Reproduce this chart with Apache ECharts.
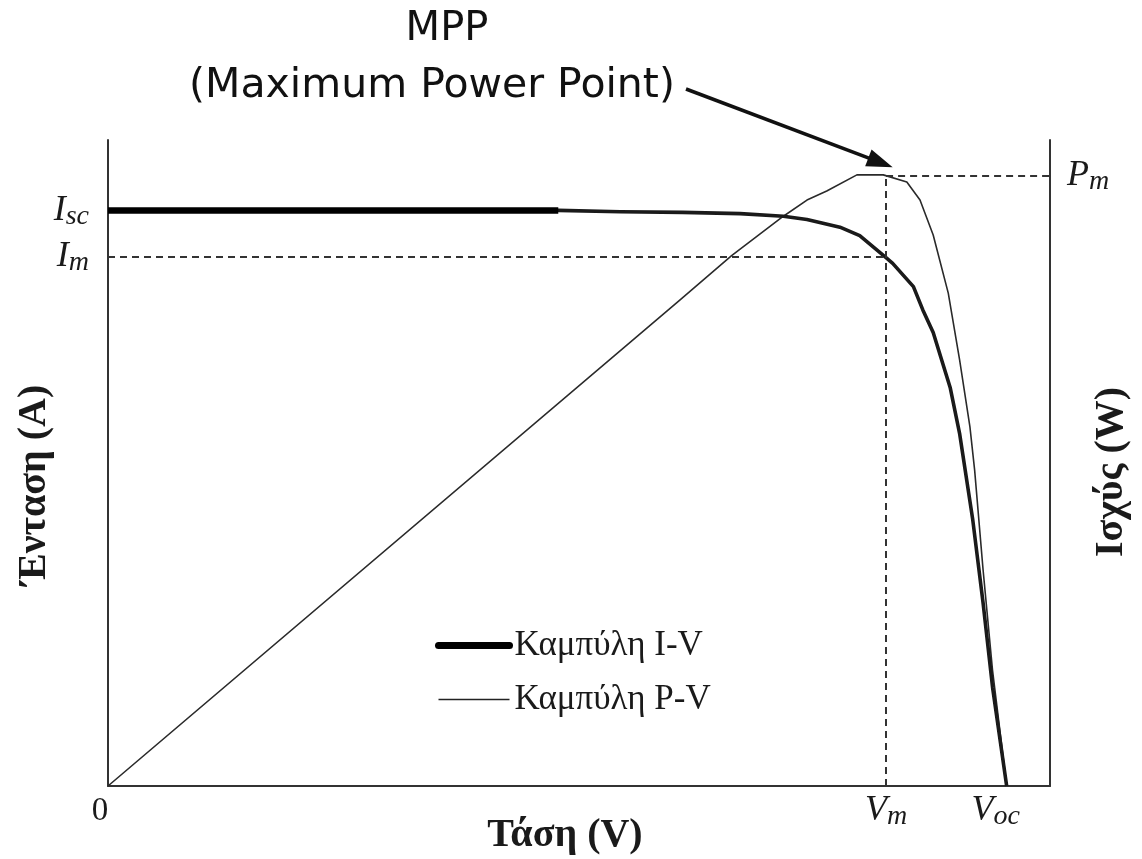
<!DOCTYPE html>
<html>
<head>
<meta charset="utf-8">
<script src="https://cdn.jsdelivr.net/npm/echarts@6/dist/echarts.min.js"></script>
<style>
  html, body { margin: 0; padding: 0; background: #fff; }
  #chart { width: 1142px; height: 859px; }
</style>
</head>
<body>
<div id="chart"></div>
<script>
// Τάση (% της κλίμακας) και Ένταση / Ισχύς (% της κλίμακας), διαβασμένα από την εικόνα
const ivV = [0, 47.8, 54.4, 61.0, 67.1, 71.7, 74.2, 77.7, 79.8, 82.5, 83.3, 85.5, 86.5, 87.6, 89.4, 90.4, 91.8, 92.9, 93.9, 95.4]
const ivI = [89.1, 89.1, 88.9, 88.8, 88.6, 88.2, 87.7, 86.5, 85.2, 81.9, 80.9, 77.3, 73.7, 70.2, 61.7, 54.6, 41.2, 28.3, 15.3, 0]
const pvV = [0, 60.7, 66.2, 71.7, 74.2, 76.3, 79.5, 82.3, 84.8, 86.2, 87.6, 89.2, 90.4, 91.5, 92.0, 92.9, 93.9, 95.4]
const pvP = [0, 75.2, 82.1, 88.2, 90.7, 92.1, 94.6, 94.6, 93.5, 90.7, 85.3, 76.3, 66.0, 55.6, 48.9, 33.4, 17.9, 0]

// χαρακτηριστικά σημεία
const Isc = 89.1
const Im = 82.0
const Pm = 94.5
const Vm = 82.6
const Voc = 95.4
const thickEnd = 47.8 // ως εκεί η I-V είναι πιο παχιά

const serif = 'Liberation Serif'
const ink = '#1a1a1a'

const zip = (xs, ys) => xs.map((x, i) => [x, ys[i]])
const ivData = zip(ivV, ivI)
const pvData = zip(pvV, pvP)

const subRich = {
  b: { fontFamily: serif, fontStyle: 'italic', fontSize: 36, color: ink, lineHeight: 40 },
  s: { fontFamily: serif, fontStyle: 'italic', fontSize: 28, color: ink, lineHeight: 26, verticalAlign: 'bottom' },
  z: { fontFamily: serif, fontSize: 33, color: ink, lineHeight: 40, padding: [0, 16, 0, 0] },
  oc: { fontFamily: serif, fontStyle: 'italic', fontSize: 28, color: ink, lineHeight: 26, verticalAlign: 'bottom', padding: [0, 22, 0, 0] },
}
const near = (a, b) => Math.abs(a - b) < 0.05
const nameStyle = { fontFamily: serif, fontWeight: 'bold', fontSize: 40, color: ink }

const chart = echarts.init(document.getElementById('chart'))
const dash = { color: '#333', width: 2, type: [7, 5] }
const noSymbol = { color: 'rgba(0,0,0,0)', borderWidth: 0 }

let option = {
  animation: false,
  grid: { left: 108, right: 92, top: 140, bottom: 73, containLabel: false, outerBoundsMode: 'none' },
  legend: {
    orient: 'vertical',
    left: 430,
    top: 623,
    itemWidth: 71,
    itemHeight: 31,
    itemGap: 19,
    selectedMode: false,
    data: [
      { name: 'Καμπύλη I-V', lineStyle: { width: 7, cap: 'round', color: '#000' }, itemStyle: noSymbol },
      { name: 'Καμπύλη P-V', lineStyle: { width: 1.6, color: '#222' }, itemStyle: noSymbol },
    ],
    textStyle: { fontFamily: serif, fontSize: 35, color: ink, lineHeight: 31 },
  },
  xAxis: {
    type: 'value',
    min: 0,
    max: 100,
    name: 'Τάση (V)',
    nameLocation: 'middle',
    nameGap: 30,
    nameMoveOverlap: false,
    nameTextStyle: Object.assign({ padding: [0, 28, 0, 0] }, nameStyle),
    axisLine: { show: true, lineStyle: { color: '#333', width: 2 } },
    axisTick: { show: false },
    splitLine: { show: false },
    axisLabel: {
      customValues: [0, Vm, Voc],
      margin: 5,
      rich: subRich,
      formatter: function (v) {
        if (near(v, 0)) return '{z|0}'
        if (near(v, Vm)) return '{b|V}{s|m}'
        return '{b|V}{oc|oc}'
      },
    },
  },
  yAxis: [
    {
      type: 'value',
      min: 0,
      max: 100,
      name: 'Ένταση (A)',
      nameLocation: 'middle',
      nameRotate: 90,
      nameGap: 53,
      nameMoveOverlap: false,
      nameTextStyle: Object.assign({ padding: [0, 44, 0, 0] }, nameStyle),
      axisLine: { show: true, lineStyle: { color: '#333', width: 2 } },
      axisTick: { show: false },
      splitLine: { show: false },
      axisLabel: {
        customValues: [Isc, Im],
        margin: 19,
        rich: subRich,
        formatter: function (v) {
          if (near(v, Isc)) return '{b|I}{s|sc}'
          return '{b|I}{s|m}'
        },
      },
    },
    {
      type: 'value',
      min: 0,
      max: 100,
      position: 'right',
      name: 'Ισχύς (W)',
      nameLocation: 'middle',
      nameRotate: 90,
      nameGap: 42,
      nameMoveOverlap: false,
      nameTextStyle: Object.assign({ padding: [0, 18, 0, 0] }, nameStyle),
      axisLine: { show: true, lineStyle: { color: '#333', width: 2 } },
      axisTick: { show: false },
      splitLine: { show: false },
      axisLabel: {
        customValues: [Pm],
        margin: 17,
        rich: subRich,
        formatter: function () {
          return '{b|P}{s|m}'
        },
      },
    },
  ],
  series: [
    {
      name: 'Καμπύλη I-V',
      type: 'line',
      data: ivData,
      color: '#000',
      showSymbol: false,
      symbol: 'none',
      lineStyle: { color: ink, width: 3.6, join: 'round' },
      z: 3,
      markLine: {
        silent: true,
        symbol: ['none', 'none'],
        label: { show: false },
        lineStyle: dash,
        data: [
          [{ coord: [0, Im] }, { coord: [Vm, Im] }],
          [{ coord: [Vm, 0] }, { coord: [Vm, Pm] }],
        ],
      },
    },
    {
      // το παχύ αρχικό τμήμα της I-V
      name: 'I-V (αρχή)',
      type: 'line',
      data: ivData.filter(d => d[0] <= thickEnd),
      color: '#000',
      showSymbol: false,
      symbol: 'none',
      lineStyle: { color: '#000', width: 6.5 },
      z: 4,
    },
    {
      name: 'Καμπύλη P-V',
      type: 'line',
      yAxisIndex: 1,
      data: pvData,
      color: '#222',
      showSymbol: false,
      symbol: 'none',
      lineStyle: { color: '#2a2a2a', width: 1.6, join: 'round' },
      z: 2,
      markLine: {
        silent: true,
        symbol: ['none', 'none'],
        label: { show: false },
        lineStyle: dash,
        data: [
          [{ coord: [Vm, Pm] }, { coord: [100, Pm] }],
        ],
      },
    },
  ],
}
chart.setOption(option)

// τίτλος MPP και βέλος προς το σημείο μέγιστης ισχύος
const tip = chart.convertToPixel({ xAxisIndex: 0, yAxisIndex: 1 }, [Vm + 0.7, Pm + 1.3])
const start = [686, 89]
const dx = tip[0] - start[0]
const dy = tip[1] - start[1]
const len = Math.sqrt(dx * dx + dy * dy)
const ux = dx / len
const uy = dy / len
const headLen = 26
const headW = 9
const base = [tip[0] - ux * headLen, tip[1] - uy * headLen]

chart.setOption({
  graphic: [
    {
      type: 'group',
      children: [
        {
          type: 'text',
          x: 447,
          y: 30,
          style: { text: 'MPP', font: '40px "DejaVu Sans"', fill: '#111', align: 'center', verticalAlign: 'middle' },
        },
        {
          type: 'text',
          x: 432,
          y: 86,
          style: { text: '(Maximum Power Point)', font: '41px "DejaVu Sans"', fill: '#111', align: 'center', verticalAlign: 'middle' },
        },
        {
          type: 'line',
          shape: { x1: start[0], y1: start[1], x2: base[0] + ux * 2, y2: base[1] + uy * 2 },
          style: { stroke: '#111', lineWidth: 3.5 },
        },
        {
          type: 'polygon',
          shape: {
            points: [
              tip,
              [base[0] - uy * headW, base[1] + ux * headW],
              [base[0] + uy * headW, base[1] - ux * headW],
            ],
          },
          style: { fill: '#111' },
        },
      ],
    },
  ],
})
</script>
</body>
</html>
